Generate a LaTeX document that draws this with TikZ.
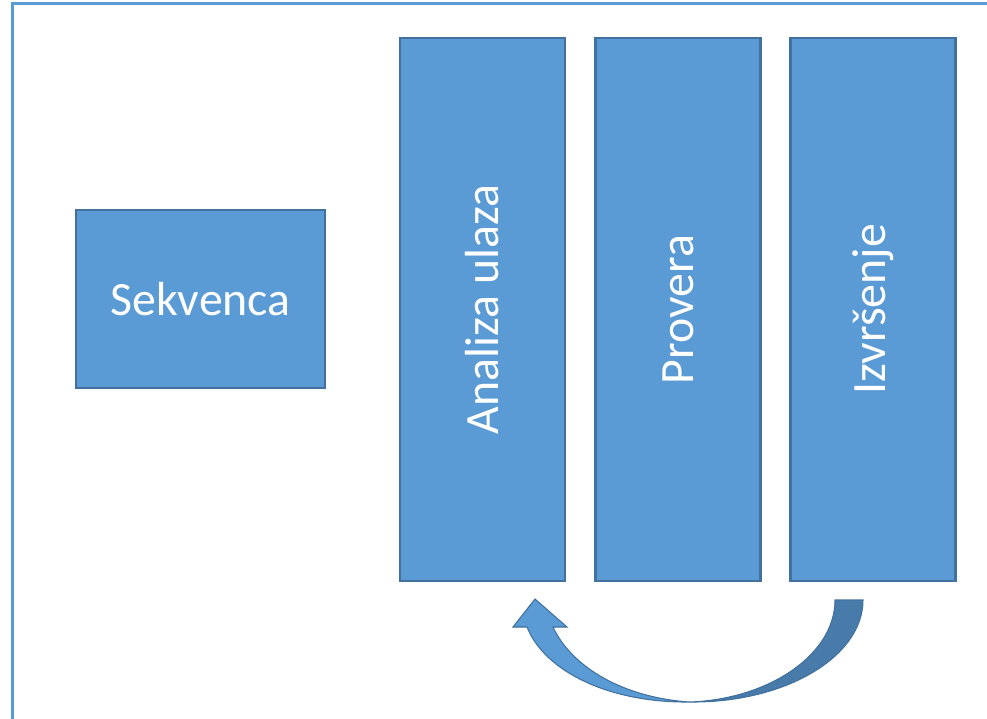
\documentclass[tikz,border=0pt]{standalone}
\usepackage{fontspec}
\setmainfont{Carlito}
\usetikzlibrary{positioning}
\definecolor{boxfill}{HTML}{5B9BD5}
\definecolor{boxline}{HTML}{41719C}
\definecolor{tailshade}{HTML}{487BAA}
\tikzset{
  stage/.style={draw=boxline, line width=1.3pt, fill=boxfill, text=white,
    font=\fontsize{27.2}{33}\selectfont, inner sep=0pt},
  phase/.style={stage, rotate=90, minimum width=10.86cm, minimum height=3.3cm}
}

\begin{document}
\begin{tikzpicture}[x=0.02cm, y=-0.02cm]
      \useasboundingbox (0,0) rectangle (987,719);

      % Frame, only left and top edges are visible
      \draw[boxfill, line width=1.6pt] (12.5,719) -- (12.5,3.5) -- (987,3.5);

      % Input block
      \node[stage, minimum width=4.98cm, minimum height=3.56cm] (sekvenca) at (200.5,299) {Sekvenca};

      % The three phases
      \node[phase] (analiza) at (482.5,309.5) {Analiza ulaza};
      \node[phase] (provera) at (678,309.5) {Provera};
      \node[phase] (izvrsenje) at (873,309.5) {Izvršenje};

      % Curved arrow back from the last phase to the first
      \coordinate (tail) at (835,600);
      \coordinate (bottom) at (690,702);
      \coordinate (tip) at (535,599);
      \draw[boxline, line width=0.6pt, fill=tailshade]
        (tail) -- (863,600)
        .. controls (863,657) and (785,703) .. (bottom)
        .. controls (770,699) and (835,654) .. (tail) -- cycle;
      \draw[boxline, line width=0.6pt, fill=boxfill]
        (bottom) .. controls (610,703) and (545,672) .. (527,627)
        -- (513,627) -- (tip) -- (567,627) -- (553,627)
        .. controls (572,668) and (625,698) .. (bottom) -- cycle;
\end{tikzpicture}
\end{document}
